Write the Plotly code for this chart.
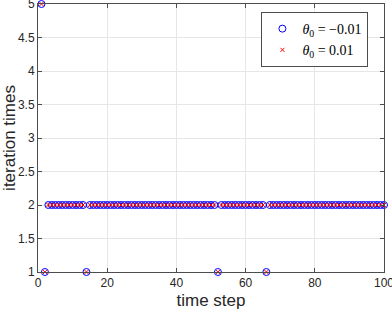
import plotly.graph_objects as go

time_step = list(range(1, 101))
ones_at = [2, 14, 52, 66]
iter_neg = []
for t in time_step:
    if t == 1:
        iter_neg.append(5)
    elif t in ones_at:
        iter_neg.append(1)
    else:
        iter_neg.append(2)
iter_pos = list(iter_neg)

labels = ["<i>θ</i><sub>0</sub> = −0.01", "<i>θ</i><sub>0</sub> = 0.01"]
x_ticks = [0, 20, 40, 60, 80, 100]
y_ticks = [1, 1.5, 2, 2.5, 3, 3.5, 4, 4.5, 5]

fig = go.Figure()
fig.add_trace(go.Scatter(x=time_step, y=iter_neg, mode="markers", name=labels[0], cliponaxis=False,
                         marker=dict(symbol="circle-open", color="#0000ff", size=7, line=dict(width=1))))
fig.add_trace(go.Scatter(x=time_step, y=iter_pos, mode="markers", name=labels[1], cliponaxis=False,
                         marker=dict(symbol="x-thin-open", color="#ff0000", size=4, line=dict(width=1, color="#ff0000"))))

axis_common = dict(showline=True, linecolor="#4d4d4d", linewidth=1, mirror="ticks",
                   ticks="inside", ticklen=4, tickcolor="#4d4d4d",
                   showgrid=True, gridcolor="#e6e6e6", zeroline=False,
                   ticklabeloverflow="allow",
                   tickfont=dict(family="Liberation Sans, Arial", size=12, color="#262626"))

fig.update_layout(
    width=392, height=314,
    margin=dict(l=38, r=8, t=4, b=42, autoexpand=False),
    paper_bgcolor="white", plot_bgcolor="white",
    font=dict(family="Liberation Sans, Arial", color="#262626"),
    xaxis=dict(range=[0, 100], tickvals=x_ticks,
               title=dict(text="time step", font=dict(size=17), standoff=4), **axis_common),
    yaxis=dict(range=[1, 5], tickvals=y_ticks, ticktext=[f"{v:g}" for v in y_ticks],
               title=dict(text="iteration times", font=dict(size=17), standoff=3), **axis_common),
    legend=dict(x=0.955, y=0.97, xanchor="right", yanchor="top",
                bgcolor="white", bordercolor="#4d4d4d", borderwidth=1,
                font=dict(family="Liberation Serif, Times New Roman", size=14, color="black"),
                itemwidth=30, tracegroupgap=0),
    showlegend=True,
)

fig.write_html("out.html", config={"displayModeBar": False},
               post_script="document.body.style.margin='0';document.body.style.overflow='hidden';")
